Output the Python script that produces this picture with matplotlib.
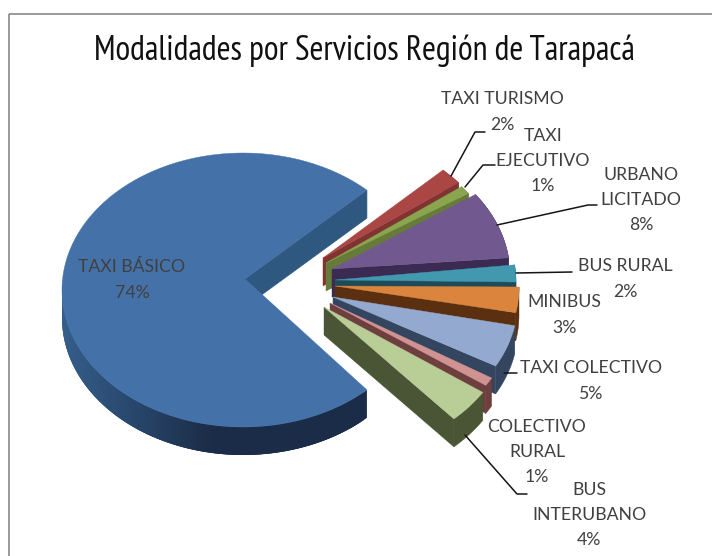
import numpy as np
import matplotlib
matplotlib.use("Agg")
import matplotlib.pyplot as plt
from matplotlib.patches import Polygon, Rectangle

categorias = ["TAXI BÁSICO", "TAXI TURISMO", "TAXI\nEJECUTIVO", "URBANO\nLICITADO", "BUS RURAL",
              "MINIBUS", "TAXI COLECTIVO", "COLECTIVO\nRURAL", "BUS\nINTERUBANO"]
valores = [74, 2, 1, 8, 2, 3, 5, 1, 4]

colores = ["#4472A8", "#AA4643", "#89A54E", "#71588F", "#4198AF", "#DB843D", "#93A9CF", "#D19392", "#B9CD96"]
lados = ["#2F5880", "#7F3432", "#667B3A", "#3B2A52", "#1F4B58", "#5A3010", "#34465F", "#6D3F3E", "#4A5535"]

# layout, en pixeles
A, B, PROF = 181, 137, 28
centro = [(243, 290), (319, 270), (322, 274), (329, 275), (335, 282), (338, 287), (337, 300), (333, 312), (330, 319)]
apice = [(245, 279), (323, 258), (326, 263), (332, 269), (335, 280), (335, 286), (333, 297), (330, 303), (324, 307)]
pos_texto = [(132, 280), (502, 112), (543, 161), (641, 200), (625, 279), (564, 315), (591, 381), (537, 452), (589, 515)]
guias = {
    1: [(451, 176), (475, 132), (485, 132)],
    2: [(465, 187), (483, 165), (495, 165)],
    3: [(497, 225), (588, 205), (597, 205)],
    4: [(516, 273), (572, 272)],
    6: [(504, 373), (517, 373)],
    8: [(465, 435), (517, 494), (527, 494)],
}


def arco(i, t1, t2, n=60):
    t = np.radians(np.linspace(t1, t2, n))
    cx, cy = centro[i]
    return np.column_stack([cx + A * np.cos(t), cy - B * np.sin(t)])


def mezcla(c1, c2, f):
    a = np.array(matplotlib.colors.to_rgb(c1))
    b = np.array(matplotlib.colors.to_rgb(c2))
    return a + (b - a) * f


fig = plt.figure(figsize=(7.12, 5.56), dpi=100)
ax = fig.add_axes([0, 0, 1, 1])
ax.set_xlim(0, 712)
ax.set_ylim(556, 0)
ax.axis("off")

# marco: solo se ven el lado izquierdo y el de arriba
ax.add_patch(Rectangle((8.5, 13.5), 800, 600, fill=False, ec="#7F7F7F", lw=1.1))

# angulos: la porcion grande va a la izquierda, el resto en abanico a la derecha
total = sum(valores)
grados = [v / total * 360 for v in valores]
limites = [(180 - grados[0] / 2, 180 + grados[0] / 2)]
t = (360 - grados[0]) / 2
for g in grados[1:]:
    limites.append((t, t - g))
    t -= g

# porcion grande
t1, t2 = limites[0]
ap = np.array(apice[0], float)
borde = arco(0, t1, t2, 200)
# cara cortada superior
p = borde[0]
ax.add_patch(Polygon([p, ap, ap + (0, PROF), p + (0, PROF)], fc=lados[0], ec=lados[0], lw=0.5))
# lateral con degradado, cada tramo tapa al anterior
for k in range(len(borde) - 3):
    a, b = borde[k], borde[k + 3]
    if b[1] < centro[0][1] - 2:
        continue
    f = np.clip((a[0] - 60) / 150, 0, 1)
    c = mezcla("#355F8C", "#1A2C47", f)
    ax.add_patch(Polygon([a, b, b + (0, PROF), a + (0, PROF)], fc=c, ec="none"))
ax.add_patch(Polygon(np.vstack([ap, borde]), fc=colores[0], ec=colores[0], lw=0.3))

# abanico, de atras hacia adelante
for i in range(1, len(valores)):
    t1, t2 = limites[i]
    ap = np.array(apice[i], float)
    borde = arco(i, t1, t2)
    cara = np.vstack([ap, borde])
    e = borde[-1]
    ax.add_patch(Polygon([ap, e, e + (0, PROF), ap + (0, PROF)], fc=lados[i], ec=lados[i], lw=0.3))
    ax.add_patch(Polygon(np.vstack([borde, borde[::-1] + (0, PROF)]), fc=lados[i], ec=lados[i], lw=0.3))
    ax.add_patch(Polygon(cara, fc=colores[i], ec=colores[i], lw=0.3))

for i, pts in guias.items():
    pts = np.array(pts)
    ax.plot(pts[:, 0], pts[:, 1], color="#151515", lw=1.1, solid_capstyle="round", zorder=5)

for i, (c, v) in enumerate(zip(categorias, valores)):
    ax.text(pos_texto[i][0], pos_texto[i][1], f"{c}\n{v}%", ha="center", va="center", family="Lato",
            fontsize=12.7, color="#404040", linespacing=1.7, zorder=6)

ax.text(364.5, 60, "Modalidades por Servicios Región de Tarapacá", ha="center", va="baseline",
        family=["PT Sans Narrow", "Noto Sans"], fontsize=24.4, color="#111111")

fig.savefig("out.png", dpi=100)
